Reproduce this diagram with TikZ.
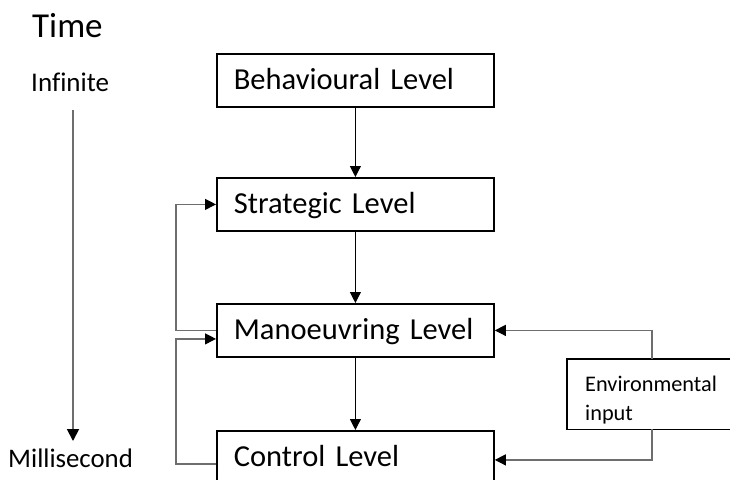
\documentclass[tikz,border=0pt]{standalone}
\usepackage{fontspec}
\setmainfont{Carlito}[Ligatures=NoCommon]
\usetikzlibrary{arrows.meta}
\definecolor{wiregray}{RGB}{110,110,110}
\definecolor{timegray}{RGB}{110,110,110}
\begin{document}
\begin{tikzpicture}[x=1pt,y=-1pt,
  level/.style={draw=black, line width=1.8pt, rectangle, anchor=north west,
    minimum width=277pt, minimum height=53pt, text width=243pt,
    inner xsep=17pt, inner ysep=0pt, align=left,
    font=\fontsize{30.5}{36}\selectfont, text height=19pt, text depth=0pt},
  envbox/.style={rectangle, anchor=north west,
    minimum width=260pt, minimum height=70pt, inner sep=0pt},
  boxline/.style={draw=black, line width=1.8pt},
  tip/.style={-{Triangle[width=11pt,length=11pt,black]}},
  link/.style={tip, draw=black, line width=1pt},
  wire/.style={tip, draw=wiregray, line width=1.2pt},
  timeline/.style={-{Triangle[width=12pt,length=12pt,black]}, draw=timegray, line width=1.8pt},
  axislabel/.style={anchor=base west, inner sep=0pt}
]
\useasboundingbox (0,0) rectangle (730,479);
\clip (0,0) rectangle (730,479);

% time axis
\node[axislabel, font=\fontsize{35}{42}\selectfont] (time) at (32,37) {Time};
\node[axislabel, font=\fontsize{27}{32}\selectfont] (inf) at (31,91) {Infinite};
\node[axislabel, font=\fontsize{26.8}{32}\selectfont] (ms) at (8,467) {Millisecond};
\coordinate (tstart) at (73,110);
\coordinate (tend) at (73,441);
\draw[timeline] (tstart) -- (tend);

% hierarchy levels
\node[level] (beh) at (216,53) {Behavioural Level};
\node[level] (str) at (216,177) {Strategic Level};
\node[level] (man) at (216,303) {Manoeuvring Level};
\node[level] (ctl) at (216,430) {Control Level};

\draw[link] (beh.south) -- (str.north);
\draw[link] (str.south) -- (man.north);
\draw[link] (man.south) -- (ctl.north);

% feedback loops on the left
\draw[wire] (man.west) -- ++(-40,0) |- (str.west);
\draw[wire] ([yshift=-6.5pt]ctl.west) -- ++(-40,0) |- ([yshift=-8.5pt]man.west);

% environmental input (box runs off the right edge)
\node[envbox] (env) at (567,359) {};
\draw[boxline] (env.north east) -- (env.north west) -- (env.south west) -- (env.south east);
\node[anchor=base west, inner sep=0pt, align=left,
  font=\fontsize{22.3}{29}\selectfont] (envtext) at (585,420) {Environmental\\input};
\draw[wire] ([xshift=85pt]env.north west) |- (man.east);
\draw[wire] ([xshift=85pt]env.south west) |- ([yshift=-2.5pt]ctl.east);
\end{tikzpicture}
\end{document}
